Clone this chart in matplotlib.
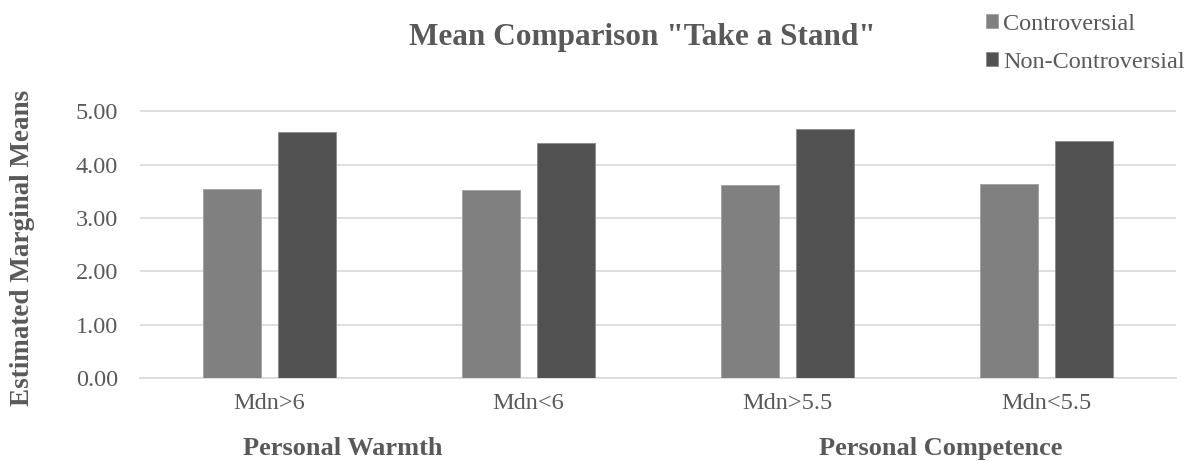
import matplotlib.pyplot as plt
import numpy as np

categories = ["Mdn>6", "Mdn<6", "Mdn>5.5", "Mdn<5.5"]
controversial = [3.55, 3.52, 3.61, 3.64]
non_controversial = [4.61, 4.41, 4.67, 4.44]
series_names = ["Controversial", "Non-Controversial"]
group_labels = ["Personal Warmth", "Personal Competence"]
y_ticks = [0, 1, 2, 3, 4, 5]

plt.rcParams['font.family'] = ['Liberation Serif', 'DejaVu Serif']

W, H = 1193, 461
fig = plt.figure(figsize=(W / 100, H / 100), dpi=100)
ax = fig.add_axes([140 / W, 1 - 378 / H, 1036 / W, (378 - 98) / H])

x = np.arange(len(categories))
w = 0.224
off = 0.143
ax.bar(x - off, controversial, width=w, color="#808080", edgecolor="#a0a0a0", linewidth=0.6,
       label=series_names[0], zorder=3)
ax.bar(x + off, non_controversial, width=w, color="#525252", edgecolor="#8a8a8a", linewidth=0.6,
       label=series_names[1], zorder=3)

ax.set_xlim(-0.5, len(categories) - 0.5)
ax.set_ylim(0, 5.25)
ax.set_yticks(y_ticks)
ax.set_yticklabels([f"{v:.2f}" for v in y_ticks])
ax.set_xticks(x)
ax.set_xticklabels(categories)
ax.tick_params(axis='both', length=0, labelsize=17.5, colors="#595959")
ax.tick_params(axis='y', pad=16)
ax.tick_params(axis='x', pad=11)
ax.grid(axis='y', color="#d9d9d9", linewidth=1.2, zorder=0)
for s in ["top", "right", "left"]:
    ax.spines[s].set_visible(False)
ax.spines["bottom"].set_color("#d9d9d9")
ax.spines["bottom"].set_linewidth(1.2)

fig.text(23 / W, 1 - 248 / H, "Estimated Marginal Means", rotation=90, ha="center", va="center",
         fontsize=19.5, fontweight="bold", color="#595959")

fig.text(642 / W, 1 - 37 / H, 'Mean Comparison "Take a Stand"', ha="center", va="center",
         fontsize=22.5, fontweight="bold", color="#595959")

fig.text(343 / W, 1 - 448 / H, group_labels[0], ha="center", va="center",
         fontsize=19, fontweight="bold", color="#595959")
fig.text(941 / W, 1 - 448 / H, group_labels[1], ha="center", va="center",
         fontsize=19, fontweight="bold", color="#595959")

fig.legend(loc="upper left", bbox_to_anchor=(986 / W, 1 - 14 / H), frameon=False,
           fontsize=17.5, handlelength=0.5, handleheight=0.5, handletextpad=0.2,
           labelspacing=0.68, borderpad=0, borderaxespad=0, labelcolor="#595959")

fig.savefig("out.png", dpi=100)
